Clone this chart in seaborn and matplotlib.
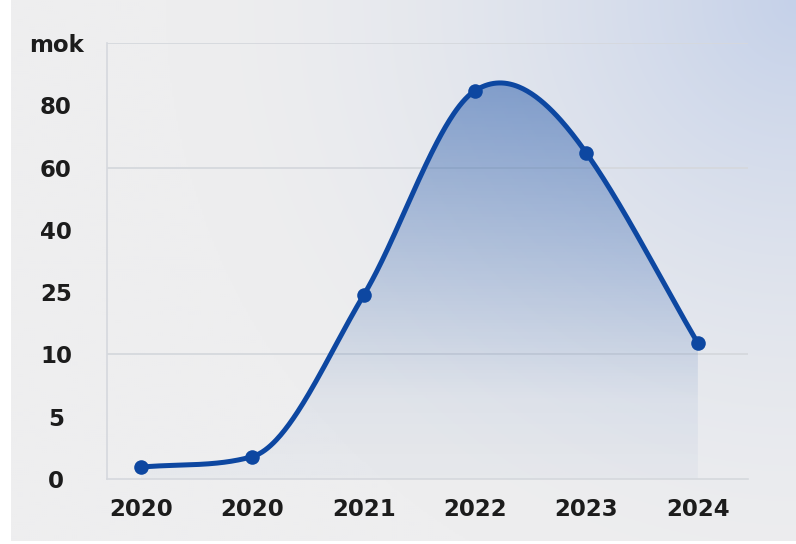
import numpy as np
import pandas as pd
import matplotlib
matplotlib.use("Agg")
import matplotlib.pyplot as plt
import seaborn as sns

# ---- data ----
years = ["2020", "2020", "2021", "2022", "2023", "2024"]
values = [0.95, 1.8, 24.3, 84.7, 64.6, 12.7]
ytick_values = [0, 5, 10, 25, 40, 60, 80, 100]
ytick_labels = ["0", "5", "10", "25", "40", "60", "80", "mok"]
grid_values = [10, 60, 100]

LINE_BLUE = "#0d47a1"
TEXT = "#1c1c1c"
GRID = "#d5d8dd"

W, H, DPI = 796, 544, 100
sns.set_theme(style="white")
plt.rcParams["font.family"] = ["DejaVu Sans"]

fig = plt.figure(figsize=(W / DPI, H / DPI), dpi=DPI, facecolor="white")

# soft background: light grey with a bluish glow from the top-right corner
bg_ax = fig.add_axes([11 / W, 3 / H, 1 - 11 / W, 1 - 3 / H])
bg_ax.set_axis_off()
gh, gw = 270, 392
yy, xx = np.mgrid[0:gh, 0:gw]
dist = np.hypot((gw - xx) / gw * 785, yy / gh * 540)
wgt = np.clip(1 - dist / 630, 0, 1) ** 1.7
base = np.array([238, 238, 239]) / 255
glow = np.array([197, 209, 233]) / 255
bg = base[None, None, :] * (1 - wgt[..., None]) + glow[None, None, :] * wgt[..., None]
bg_ax.imshow(bg, aspect="auto", extent=[0, 1, 0, 1], origin="upper")
bg_ax.set_xlim(0, 1)
bg_ax.set_ylim(0, 1)

# ---- main axes ----
L, R, T, B = 107, 748, 43, 479
ax = fig.add_axes([L / W, (H - B) / H, (R - L) / W, (B - T) / H])
ax.patch.set_alpha(0)

slots = np.arange(len(ytick_values), dtype=float)


def forward(v):
    return np.interp(v, ytick_values, slots)


def inverse(p):
    return np.interp(p, slots, ytick_values)


ax.set_yscale("function", functions=(forward, inverse))

# smooth curve: cubic Hermite through the points in scaled space.
# On steady runs the tangent leans toward the steeper neighbour; at turning
# points it is the plain central difference. Tangents are capped so that
# rising stretches never dip backwards.
xs = np.arange(len(values), dtype=float)
ps = forward(np.array(values))
d = np.diff(ps)
m = np.empty_like(ps)
m[0] = d[0]
m[-1] = d[-1]
for i in range(1, len(ps) - 1):
    a, b = d[i - 1], d[i]
    if np.sign(a) == np.sign(b):
        m[i] = (abs(a) * a + abs(b) * b) / (abs(a) + abs(b))
    else:
        m[i] = (a + b) / 2
for i in range(len(ps)):
    for k in (i - 1, i):
        if 0 <= k < len(d) and np.sign(m[i]) == np.sign(d[k]) and abs(m[i]) > 3 * abs(d[k]):
            m[i] = 3 * d[k]
cx, cp = [], []
t = np.linspace(0, 1, 80)
h00 = 2 * t**3 - 3 * t**2 + 1
h10 = t**3 - 2 * t**2 + t
h01 = -2 * t**3 + 3 * t**2
h11 = t**3 - t**2
for i in range(len(xs) - 1):
    seg = h00 * ps[i] + h10 * m[i] + h01 * ps[i + 1] + h11 * m[i + 1]
    cx.append(xs[i] + t)
    cp.append(seg)
curve_x = np.concatenate(cx)
curve_v = inverse(np.concatenate(cp))
curve = pd.DataFrame({"x": curve_x, "value": curve_v})
points = pd.DataFrame({"x": xs, "value": values, "year": years})

# gradient fill under the curve
fill = ax.fill_between(curve_x, 0, curve_v, facecolor="none", edgecolor="none")
fy = np.linspace(1, 0, 300)
alpha = np.interp(fy, [0, 0.18, 0.525, 0.9, 1.0], [0.03, 0.06, 0.25, 0.45, 0.48])
rgb = np.array(matplotlib.colors.to_rgb(LINE_BLUE))
grad = np.zeros((300, 2, 4))
grad[..., :3] = rgb
grad[..., 3] = alpha[:, None]
im = ax.imshow(grad, extent=[0, 1, 0, 1], transform=ax.transAxes,
               aspect="auto", origin="upper", zorder=1)
im.set_clip_path(fill.get_paths()[0], fill.get_transform())

# horizontal guide lines
for g in grid_values:
    ax.axhline(g, color=GRID, lw=1.3, zorder=0.5)

sns.lineplot(data=curve, x="x", y="value", sort=False, color=LINE_BLUE,
             lw=3.6, ax=ax, zorder=3)
sns.scatterplot(data=points, x="x", y="value", color=LINE_BLUE, s=110,
                edgecolor=LINE_BLUE, linewidth=0, ax=ax, zorder=4)

ax.set_xlim(-0.305, 5.45)
ax.set_ylim(0, 100)
ax.set_xlabel("")
ax.set_ylabel("")

ax.set_xticks(xs)
ax.set_xticklabels(years)
ax.set_yticks(ytick_values)
ax.set_yticklabels(ytick_labels)

ax.tick_params(axis="x", length=6, width=1.2, color=GRID, pad=8,
               labelsize=16.5, labelcolor=TEXT)
ax.tick_params(axis="y", length=0, pad=36.7, labelsize=16.5, labelcolor=TEXT)
for lab in ax.get_yticklabels() + ax.get_xticklabels():
    lab.set_fontweight("bold")
for lab in ax.get_yticklabels():
    lab.set_horizontalalignment("center")

for side in ["top", "right"]:
    ax.spines[side].set_visible(False)
for side in ["left", "bottom"]:
    ax.spines[side].set_color(GRID)
    ax.spines[side].set_linewidth(1.2)

fig.savefig("out.png", dpi=DPI, facecolor=fig.get_facecolor())
